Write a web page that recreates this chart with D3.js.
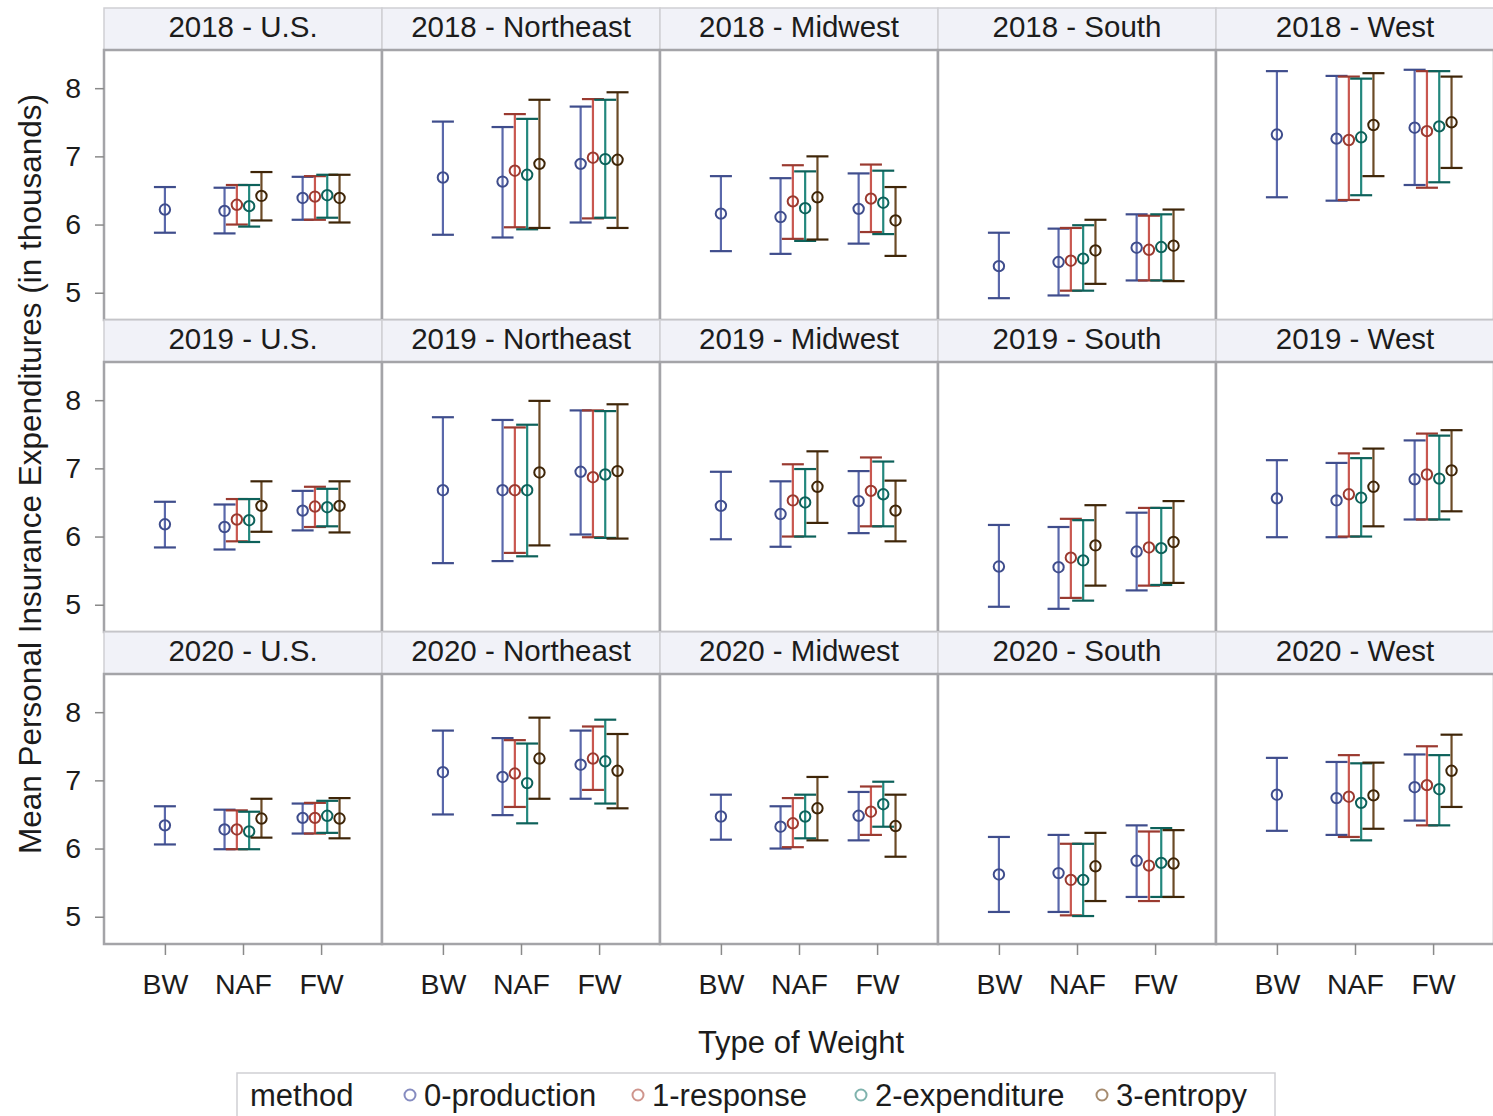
<!DOCTYPE html>
<html>
<head>
<meta charset="utf-8">
<script src="https://cdn.jsdelivr.net/npm/d3@7"></script>
<style>
  body { margin: 0; background: #fff; }
  text { font-family: "Liberation Sans", Arial, sans-serif; fill: #1c1c1c; }
</style>
</head>
<body>
<svg id="chart" width="1493" height="1116"></svg>
<script>
// Panel facets
const years = ["2018", "2019", "2020"];
const regions = ["U.S.", "Northeast", "Midwest", "South", "West"];
const weights = ["BW", "NAF", "FW"];
const methods = ["0-production", "1-response", "2-expenditure", "3-entropy"];
const yTicks = [5, 6, 7, 8];

// Each region row holds 9 estimates in this order:
// BW/0-production, NAF/0..3, FW/0..3
const slotWeight = ["BW", "NAF", "NAF", "NAF", "NAF", "FW", "FW", "FW", "FW"];
const slotMethod = [0, 0, 1, 2, 3, 0, 1, 2, 3];

const mean2018 = [
  [6.22, 6.20, 6.29, 6.27, 6.42, 6.39, 6.41, 6.43, 6.39],
  [6.69, 6.63, 6.79, 6.73, 6.89, 6.89, 6.98, 6.96, 6.95],
  [6.16, 6.11, 6.34, 6.24, 6.40, 6.23, 6.38, 6.32, 6.06],
  [5.39, 5.45, 5.47, 5.50, 5.62, 5.66, 5.63, 5.67, 5.69],
  [7.32, 7.26, 7.24, 7.28, 7.46, 7.42, 7.37, 7.44, 7.50]
];
const lower2018 = [
  [5.88, 5.87, 6.00, 5.97, 6.06, 6.07, 6.07, 6.10, 6.03],
  [5.85, 5.81, 5.96, 5.93, 5.95, 6.03, 6.09, 6.10, 5.95],
  [5.61, 5.57, 5.79, 5.76, 5.78, 5.72, 5.89, 5.86, 5.54],
  [4.92, 4.96, 5.03, 5.03, 5.13, 5.18, 5.18, 5.18, 5.17],
  [6.40, 6.35, 6.36, 6.43, 6.71, 6.58, 6.54, 6.62, 6.83]
];
const upper2018 = [
  [6.55, 6.54, 6.58, 6.58, 6.77, 6.70, 6.71, 6.73, 6.73],
  [7.51, 7.43, 7.62, 7.55, 7.83, 7.73, 7.84, 7.83, 7.94],
  [6.71, 6.68, 6.87, 6.78, 7.00, 6.75, 6.88, 6.79, 6.55],
  [5.88, 5.94, 5.95, 5.99, 6.07, 6.15, 6.13, 6.15, 6.22],
  [8.25, 8.18, 8.17, 8.14, 8.22, 8.27, 8.25, 8.25, 8.17]
];

const mean2019 = [
  [6.18, 6.14, 6.25, 6.24, 6.45, 6.38, 6.44, 6.43, 6.45],
  [6.68, 6.68, 6.68, 6.68, 6.94, 6.95, 6.87, 6.91, 6.96],
  [6.45, 6.33, 6.53, 6.50, 6.73, 6.52, 6.67, 6.62, 6.38],
  [5.56, 5.55, 5.69, 5.65, 5.87, 5.78, 5.84, 5.83, 5.92],
  [6.56, 6.53, 6.62, 6.57, 6.73, 6.84, 6.91, 6.85, 6.97]
];
const lower2019 = [
  [5.84, 5.81, 5.93, 5.92, 6.07, 6.09, 6.14, 6.15, 6.06],
  [5.61, 5.64, 5.76, 5.71, 5.87, 6.03, 5.99, 5.98, 5.97],
  [5.96, 5.85, 6.00, 6.00, 6.20, 6.05, 6.15, 6.15, 5.93],
  [4.97, 4.94, 5.10, 5.06, 5.28, 5.21, 5.28, 5.29, 5.32],
  [5.99, 5.99, 6.00, 6.00, 6.15, 6.25, 6.25, 6.25, 6.37]
];
const upper2019 = [
  [6.51, 6.47, 6.55, 6.55, 6.81, 6.67, 6.73, 6.70, 6.81],
  [7.75, 7.71, 7.60, 7.64, 7.99, 7.85, 7.85, 7.84, 7.94],
  [6.95, 6.81, 7.06, 6.99, 7.25, 6.96, 7.16, 7.10, 6.82],
  [6.17, 6.14, 6.26, 6.24, 6.46, 6.35, 6.42, 6.42, 6.52],
  [7.12, 7.08, 7.22, 7.15, 7.29, 7.41, 7.51, 7.48, 7.56]
];

const mean2020 = [
  [6.34, 6.28, 6.28, 6.25, 6.44, 6.45, 6.45, 6.48, 6.44],
  [7.12, 7.05, 7.10, 6.96, 7.32, 7.23, 7.32, 7.28, 7.14],
  [6.47, 6.32, 6.37, 6.47, 6.59, 6.48, 6.54, 6.65, 6.33],
  [5.62, 5.64, 5.54, 5.54, 5.74, 5.82, 5.75, 5.79, 5.78],
  [6.79, 6.74, 6.76, 6.67, 6.78, 6.90, 6.93, 6.87, 7.14]
];
const lower2020 = [
  [6.06, 5.99, 5.99, 5.99, 6.16, 6.22, 6.22, 6.23, 6.15],
  [6.50, 6.49, 6.61, 6.37, 6.73, 6.73, 6.86, 6.66, 6.59],
  [6.13, 6.00, 6.02, 6.15, 6.12, 6.12, 6.20, 6.32, 5.88],
  [5.07, 5.07, 5.02, 5.01, 5.23, 5.29, 5.23, 5.29, 5.29],
  [6.26, 6.20, 6.17, 6.12, 6.29, 6.41, 6.34, 6.34, 6.61]
];
const upper2020 = [
  [6.62, 6.57, 6.56, 6.54, 6.73, 6.66, 6.67, 6.70, 6.74],
  [7.73, 7.62, 7.59, 7.54, 7.92, 7.73, 7.79, 7.89, 7.68],
  [6.79, 6.62, 6.74, 6.79, 7.05, 6.83, 6.91, 6.98, 6.79],
  [6.17, 6.20, 6.07, 6.07, 6.23, 6.34, 6.25, 6.30, 6.27],
  [7.33, 7.27, 7.37, 7.25, 7.26, 7.38, 7.50, 7.37, 7.67]
];

const meanByYear = [mean2018, mean2019, mean2020];
const lowerByYear = [lower2018, lower2019, lower2020];
const upperByYear = [upper2018, upper2019, upper2020];

// Method colours: bar line, cap / marker, legend swatch
const lineColors = ["#5a68ab", "#c9574f", "#23877d", "#6b4a26"];
const capColors  = ["#3f4d8c", "#9a3a30", "#0d615a", "#3e2508"];
const legendColors = ["#868cc0", "#cf958d", "#7fb3ad", "#a68c70"];

// Layout
const left = 104, colW = 278;
const top0 = 8, rowH = 312, stripH = 42, panelH = 270;

const svg = d3.select("#chart");

const x = d3.scalePoint().domain(weights).range([0, colW]).padding(0.78);
const offset = d3.scaleBand().domain(methods).range([-24.6, 24.6]);
const y = d3.scaleLinear().domain([4.6, 8.56]).range([panelH, 0]);

const records = [];
years.forEach((yr, r) => {
  regions.forEach((rg, c) => {
    for (let i = 0; i < slotWeight.length; i++) {
      records.push({
        row: r, col: c,
        weight: slotWeight[i],
        method: methods[slotMethod[i]],
        mi: slotMethod[i],
        mean: meanByYear[r][c][i],
        lo: lowerByYear[r][c][i],
        hi: upperByYear[r][c][i]
      });
    }
  });
});

// Weights with a single estimate sit on the tick itself
const countPerWeight = d3.rollup(records.filter(d => d.row === 0 && d.col === 0), v => v.length, d => d.weight);
function xPos(d) {
  const base = x(d.weight);
  if (countPerWeight.get(d.weight) === 1) return base;
  return base + offset(d.method) + offset.bandwidth() / 2;
}

years.forEach((yr, r) => {
  const rowTop = top0 + r * rowH;
  regions.forEach((rg, c) => {
    const gx = left + c * colW;
    // strip header
    svg.append("rect")
      .attr("x", gx).attr("y", rowTop)
      .attr("width", colW).attr("height", stripH)
      .attr("fill", "#f1f2f8").attr("stroke", "#cfcfd4").attr("stroke-width", 1.5);
    svg.append("text")
      .attr("x", gx + colW / 2).attr("y", rowTop + stripH / 2 + 8)
      .attr("text-anchor", "middle").attr("font-size", 29.5)
      .text(`${yr} - ${rg}`);

    const g = svg.append("g").attr("transform", `translate(${gx},${rowTop + stripH})`);
    g.append("rect")
      .attr("width", colW).attr("height", panelH)
      .attr("fill", "#fff").attr("stroke", "#a4a4a8").attr("stroke-width", 2.5);

    const pts = records.filter(d => d.row === r && d.col === c);
    const bars = g.selectAll("g.bar").data(pts).join("g").attr("class", "bar");
    bars.append("line")
      .attr("x1", xPos).attr("x2", xPos)
      .attr("y1", d => y(d.lo)).attr("y2", d => y(d.hi))
      .attr("stroke", d => lineColors[d.mi]).attr("stroke-width", 2.2);
    ["lo", "hi"].forEach(k => {
      bars.append("line")
        .attr("x1", d => xPos(d) - 11).attr("x2", d => xPos(d) + 11)
        .attr("y1", d => y(d[k])).attr("y2", d => y(d[k]))
        .attr("stroke", d => capColors[d.mi]).attr("stroke-width", 2.2);
    });
    bars.append("circle")
      .attr("cx", xPos).attr("cy", d => y(d.mean)).attr("r", 5.2)
      .attr("fill", "none")
      .attr("stroke", d => capColors[d.mi]).attr("stroke-width", 2);

    // y axis on the first column
    if (c === 0) {
      const ya = g.append("g").call(d3.axisLeft(y).tickValues(yTicks).tickSize(9).tickPadding(14).tickFormat(d3.format("d")));
      ya.select(".domain").remove();
      ya.selectAll(".tick line").attr("stroke", "#8a8a8a").attr("stroke-width", 1.5);
      ya.selectAll(".tick text").attr("font-size", 28.5).attr("font-family", "Liberation Sans, Arial, sans-serif").attr("fill", "#1c1c1c");
    }
    // x axis on the bottom row
    if (r === years.length - 1) {
      const xa = g.append("g").attr("transform", `translate(0,${panelH})`)
        .call(d3.axisBottom(x).tickSize(11).tickPadding(19));
      xa.select(".domain").remove();
      xa.selectAll(".tick line").attr("stroke", "#8a8a8a").attr("stroke-width", 1.5);
      xa.selectAll(".tick text").attr("font-size", 28.5).attr("font-family", "Liberation Sans, Arial, sans-serif").attr("fill", "#1c1c1c");
    }
  });
});

// Axis titles
const plotRight = left + regions.length * colW;
svg.append("text")
  .attr("x", (left + plotRight) / 2 + 2).attr("y", 1053)
  .attr("text-anchor", "middle").attr("font-size", 31)
  .text("Type of Weight");
svg.append("text")
  .attr("transform", `translate(41,${(top0 + 3 * rowH) / 2 + 2}) rotate(-90)`)
  .attr("text-anchor", "middle").attr("font-size", 31.5)
  .text("Mean Personal Insurance Expenditures (in thousands)");

// Legend
const lg = svg.append("g").attr("transform", "translate(237,1073)");
lg.append("rect").attr("width", 1038).attr("height", 60)
  .attr("fill", "#fff").attr("stroke", "#cfcfd4").attr("stroke-width", 1.5);
lg.append("text").attr("x", 13).attr("y", 33).attr("font-size", 31).text("method");
const legendX = [173, 401, 624, 865];
methods.forEach((m, i) => {
  lg.append("circle").attr("cx", legendX[i]).attr("cy", 22).attr("r", 5.5)
    .attr("fill", "none").attr("stroke", legendColors[i]).attr("stroke-width", 2);
  lg.append("text").attr("x", legendX[i] + 14).attr("y", 33).attr("font-size", 31).text(m);
});
</script>
</body>
</html>
